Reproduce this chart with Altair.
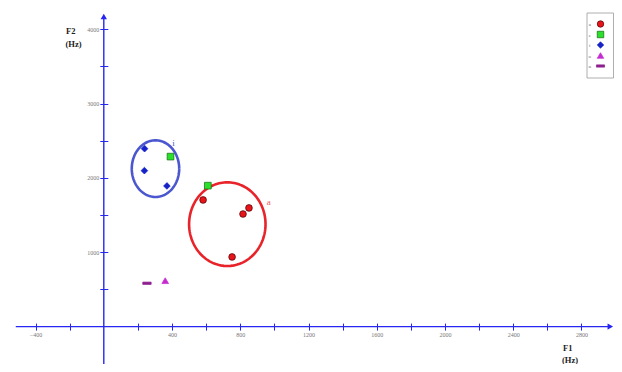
import altair as alt
import pandas as pd
import numpy as np

# ---- data ----
vowels = ["a", "a", "a", "a", "e", "e", "i", "i", "i", "o", "u"]
f1_hz = [582, 851, 816, 752, 391, 610, 239, 238, 370, 360, 253]
f2_hz = [1704, 1596, 1515, 937, 2287, 1896, 2394, 2098, 1892, 618, 583]

legend_order = ["a", "e", "i", "o", "u"]
fill_colors = ["#E8141B", "#2BE02B", "#1422C8", "#C42BD0", "#8E1F8E"]
edge_colors = ["#4A0000", "#0E6A0E", "#1422C8", "#C42BD0", "#8E1F8E"]
shapes = ["circle", "square", "diamond", "triangle-up", "M-1.25,-0.35H1.25V0.35H-1.25Z"]

# cluster ellipses (centre and radii in Hz)
ell_names = ["i", "a"]
ell_cx = [303, 724]
ell_cy = [2125, 1378]
ell_rx = [139, 224]
ell_ry = [381, 563]
ell_colors = ["#4B57CF", "#E8232A"]
ell_label_x = [408, 967]
ell_label_y = [2470, 1675]
ell_label_colors = ["#4B57CF", "#F05A66"]

x_ticks = [-400, -200, 200, 400, 600, 800, 1000, 1200, 1400, 1600, 1800,
           2000, 2200, 2400, 2600, 2800]
y_ticks = [-500, 500, 1000, 1500, 2000, 2500, 3000, 3500, 4000]

W, H = 606, 356
AXIS_BLUE = "#2626F2"

xscale = alt.Scale(domain=[-561.5, 2990.6], nice=False, zero=False)
yscale = alt.Scale(domain=[-503.2, 4286.3], nice=False, zero=False)

x_axis = alt.Axis(values=x_ticks, format="d",
                  labelExpr="datum.value % 400 == 0 ? datum.label : ''",
                  orient="bottom", offset=-40.9, tickSize=7, tickColor=AXIS_BLUE,
                  tickWidth=1, domain=False, grid=False, title=None,
                  labelFont="Liberation Serif", labelFontSize=6, labelColor="#777",
                  labelPadding=1, labelOverlap=False, labelFlush=False)
y_axis = alt.Axis(values=y_ticks, format="d",
                  labelExpr="datum.value % 1000 == 0 ? datum.label : ''",
                  orient="left", offset=-99.8, tickSize=8, tickColor=AXIS_BLUE,
                  tickWidth=1, domain=False, grid=False, title=None,
                  labelFont="Liberation Serif", labelFontSize=6, labelColor="#777",
                  labelPadding=1, labelOverlap=False, labelFlush=False,
                  labelBaseline="middle")

color_scale = alt.Scale(domain=legend_order, range=fill_colors)
shape_scale = alt.Scale(domain=legend_order, range=shapes)
stroke_scale = alt.Scale(domain=legend_order, range=edge_colors)

pts = pd.DataFrame({"vowel": vowels, "F1": f1_hz, "F2": f2_hz})

points = alt.Chart(pts).mark_point(filled=True, size=45, strokeWidth=0.7, opacity=1).encode(
    x=alt.X("F1:Q", scale=xscale, axis=x_axis),
    y=alt.Y("F2:Q", scale=yscale, axis=y_axis),
    color=alt.Color("vowel:N", scale=color_scale, legend=None),
    shape=alt.Shape("vowel:N", scale=shape_scale, legend=None),
    stroke=alt.Stroke("vowel:N", scale=stroke_scale, legend=None),
)

# ellipse outlines
t = np.linspace(0, 2 * np.pi, 145)
ell_layers = []
for name, cx, cy, rx, ry, col in zip(ell_names, ell_cx, ell_cy, ell_rx, ell_ry, ell_colors):
    df = pd.DataFrame({"F1": cx + rx * np.cos(t), "F2": cy + ry * np.sin(t),
                       "k": np.arange(len(t))})
    ell_layers.append(
        alt.Chart(df).mark_line(color=col, strokeWidth=2.6).encode(
            x="F1:Q", y="F2:Q", order="k:Q")
    )

label_layers = []
for name, lx, ly, col in zip(ell_names, ell_label_x, ell_label_y, ell_label_colors):
    label_layers.append(
        alt.Chart().mark_text(text=name, font="Liberation Serif", fontSize=9,
                              color=col).encode(x=alt.datum(lx), y=alt.datum(ly))
    )

# axis lines with arrow heads
x_line = alt.Chart().mark_rule(color=AXIS_BLUE, strokeWidth=1.4).encode(
    x=alt.datum(-516), x2=alt.datum(2975), y=alt.datum(0))
y_line = alt.Chart().mark_rule(color=AXIS_BLUE, strokeWidth=1.4).encode(
    x=alt.datum(0), y=alt.datum(4180), y2=alt.datum(-503.2))
x_arrow = alt.Chart().mark_point(shape="triangle-right", filled=True, size=40,
                                 color=AXIS_BLUE, opacity=1).encode(
    x=alt.datum(2969), y=alt.datum(0))
y_arrow = alt.Chart().mark_point(shape="triangle-up", filled=True, size=40,
                                 color=AXIS_BLUE, opacity=1).encode(
    x=alt.datum(0), y=alt.datum(4172))


def title_text(txt, px, py):
    return alt.Chart().mark_text(text=txt, font="Liberation Serif", fontSize=8.5,
                                 fontWeight="bold", color="#222", align="left",
                                 baseline="middle").encode(
        x=alt.value(px), y=alt.value(py))


titles = [title_text("F2", 58, 23), title_text("(Hz)", 57.5, 36),
          title_text("F1", 555, 339.5), title_text("(Hz)", 554, 351.5)]

main = alt.layer(x_line, y_line, x_arrow, y_arrow, *ell_layers, *label_layers,
                 points, *titles)

# legend box (top right), rows placed by a point scale over the vowel names
leg_df = pd.DataFrame({"vowel": legend_order})
leg_y = alt.Y("vowel:N", scale=alt.Scale(type="point", domain=legend_order,
                                          range=[16, 58], padding=0), axis=None)
leg_box = alt.Chart().mark_rect(fill="white", stroke="#9a9a9a", strokeWidth=0.8).encode(
    x=alt.value(579), x2=alt.value(605.5), y=alt.value(5), y2=alt.value(70))
leg_sym = alt.Chart(leg_df).mark_point(filled=True, size=42, strokeWidth=0.7,
                                       opacity=1).encode(
    x=alt.value(592.5), y=leg_y,
    color=alt.Color("vowel:N", scale=color_scale, legend=None),
    shape=alt.Shape("vowel:N", scale=shape_scale, legend=None),
    stroke=alt.Stroke("vowel:N", scale=stroke_scale, legend=None),
)
leg_txt = alt.Chart(leg_df).mark_text(font="Liberation Serif", fontSize=5,
                                      color="#666", align="center",
                                      baseline="middle").encode(
    x=alt.value(581.8), y=leg_y, text="vowel:N")
legend_group = alt.layer(leg_box, leg_sym, leg_txt)

chart = alt.layer(main, legend_group).resolve_scale(y="independent").properties(
    width=W, height=H, padding=0, autosize=alt.AutoSizeParams(type="none"),
    background="white"
).configure_view(stroke=None)

chart.save("out.html", embed_options={"renderer": "svg", "actions": False})
